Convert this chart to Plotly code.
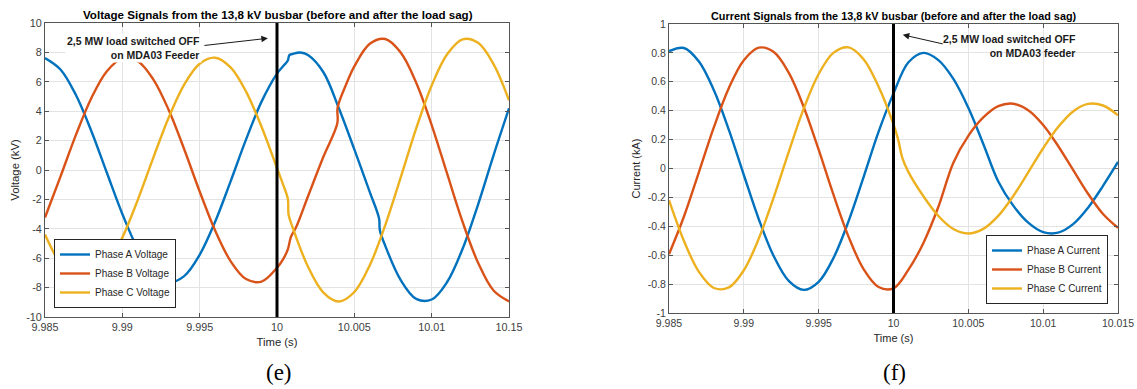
import plotly.graph_objects as go

# ---------------- tick labels ----------------
x_tickvals = [9.985, 9.99, 9.995, 10.0, 10.005, 10.01, 10.015]
v_xticktext = ["9.985", "9.99", "9.995", "10", "10.005", "10.01", "10.15"]
i_xticktext = ["9.985", "9.99", "9.995", "10", "10.005", "10.01", "10.015"]
v_yticks = [-10, -8, -6, -4, -2, 0, 2, 4, 6, 8, 10]
v_yticktext = ["-10", "-8", "-6", "-4", "-2", "0", "2", "4", "6", "8", "10"]
i_yticks = [-1, -0.8, -0.6, -0.4, -0.2, 0, 0.2, 0.4, 0.6, 0.8, 1]
i_yticktext = ["-1", "-0.8", "-0.6", "-0.4", "-0.2", "0", "0.2", "0.4", "0.6", "0.8", "1"]

# ---------------- time bases (s) ----------------
t_pre = [9.985, 9.986, 9.987, 9.988, 9.989, 9.990, 9.991, 9.992,
         9.993, 9.994, 9.995, 9.996, 9.997, 9.998, 9.999, 10.000]
t_post = [10.001, 10.002, 10.003, 10.004, 10.005, 10.006, 10.007, 10.008,
          10.009, 10.010, 10.011, 10.012, 10.013, 10.014, 10.015]

# ---------------- voltage signals (kV) ----------------
tva = t_pre + [10.0004, 10.0007, 10.0008, 10.001, 10.0015, 10.002, 10.003, 10.004,
               10.005, 10.006, 10.0066, 10.00665, 10.007, 10.008, 10.009, 10.010,
               10.011, 10.012, 10.013, 10.014, 10.015]
va = [7.62, 6.84, 5.10, 2.64, -0.19, -2.99, -5.37, -7.00, -7.64, -7.22, -5.77, -3.52,
      -0.77, 2.08, 4.65, 6.56,
      7.07, 7.45, 7.82, 7.89, 7.99, 7.82, 6.65, 4.20, 1.40, -1.50, -3.30, -4.10,
      -5.16, -7.49, -8.77, -8.81, -7.62, -5.36, -2.35, 1.00, 4.20]

tvb = t_pre + [10.0004, 10.0007, 10.0009, 10.00125, 10.002, 10.003, 10.0039, 10.00392,
               10.0045, 10.005, 10.006, 10.007, 10.008, 10.009, 10.010, 10.011,
               10.012, 10.013, 10.014, 10.015]
vb = [-3.23, -0.45, 2.39, 4.90, 6.72, 7.59, 7.40, 6.17, 4.08, 1.41, -1.46, -4.12,
      -6.20, -7.42, -7.59, -6.65,
      -6.06, -5.40, -4.55, -3.86, -1.80, 0.90, 3.18, 4.25,
      5.90, 7.05, 8.59, 8.91, 7.99, 5.94, 3.06, -0.25, -3.53, -6.31, -8.20, -8.94]

tvc = t_pre + [10.0004, 10.0007, 10.00075] + t_post
vc = [-4.39, -6.39, -7.49, -7.54, -6.53, -4.60, -2.03, 0.83, 3.57, 5.81, 7.23, 7.64,
      6.98, 5.33, 2.94, 0.13,
      -1.01, -1.95, -3.05,
      -3.87, -6.57, -8.34, -8.95, -8.30, -6.48, -3.75, -0.50, 2.83, 5.75, 7.87,
      8.89, 8.65, 7.20, 4.74]

# ---------------- current signals (kA) ----------------
tia = t_pre + t_post
ia = [0.812, 0.834, 0.740, 0.541, 0.267, -0.045, -0.351, -0.607, -0.778, -0.840,
      -0.784, -0.617, -0.364, -0.060, 0.253, 0.520,
      0.735, 0.800, 0.750, 0.620, 0.420, 0.170, -0.090, -0.257, -0.375, -0.440,
      -0.444, -0.385, -0.271, -0.120, 0.045]

tib = t_pre + t_post
ib = [-0.593, -0.332, -0.025, 0.286, 0.557, 0.749, 0.836, 0.806, 0.663, 0.426,
      0.130, -0.185, -0.473, -0.696, -0.820, -0.829,
      -0.700, -0.515, -0.265, 0.040, 0.226, 0.353, 0.431, 0.448, 0.403, 0.301,
      0.156, -0.010, -0.175, -0.315, -0.411]

tic = t_pre + [10.0003, 10.0006] + t_post
ic = [-0.219, -0.502, -0.715, -0.827, -0.823, -0.704, -0.485, -0.199, 0.115, 0.414,
      0.654, 0.802, 0.838, 0.756, 0.567, 0.305,
      0.205, 0.070,
      -0.025, -0.192, -0.329, -0.419, -0.450, -0.418, -0.328, -0.191, -0.027, 0.140,
      0.287, 0.395, 0.447, 0.436, 0.368]

C_A, C_B, C_C = "#0072BD", "#D95319", "#EDB120"
LW = 2.4
FONT = "Arial, Liberation Sans, Helvetica, sans-serif"
TXT = "#262626"

fig = go.Figure()
for t, v, name, col in [(tva, va, "Phase A Voltage", C_A),
                        (tvb, vb, "Phase B Voltage", C_B),
                        (tvc, vc, "Phase C Voltage", C_C)]:
    fig.add_trace(go.Scatter(x=t, y=v, name=name, mode="lines",
                             line=dict(color=col, width=LW, shape="spline", smoothing=1.0),
                             xaxis="x", yaxis="y", legend="legend"))
for t, v, name, col in [(tia, ia, "Phase A Current", C_A),
                        (tib, ib, "Phase B Current", C_B),
                        (tic, ic, "Phase C Current", C_C)]:
    fig.add_trace(go.Scatter(x=t, y=v, name=name, mode="lines",
                             line=dict(color=col, width=LW, shape="spline", smoothing=1.0),
                             xaxis="x2", yaxis="y2", legend="legend2"))

W, H = 1137, 389


def axis_style(fs):
    return dict(showline=True, linecolor="#555555", linewidth=1, mirror="ticks",
                ticks="inside", ticklen=4, tickcolor="#555555", automargin=False,
                showgrid=True, gridcolor="#e3e3e3", gridwidth=1, zeroline=False,
                tickfont=dict(family=FONT, size=fs, color="#404040"))


fig.update_layout(
    width=W, height=H, margin=dict(l=0, r=0, t=0, b=0, autoexpand=False),
    paper_bgcolor="white", plot_bgcolor="white",
    font=dict(family=FONT, color=TXT),
    xaxis=dict(domain=[45 / W, 509 / W], range=[9.985, 10.015], anchor="y",
               tickvals=x_tickvals, ticktext=v_xticktext,
               title=dict(text="Time (s)", font=dict(size=11.3, color=TXT), standoff=6),
               **axis_style(10.8)),
    yaxis=dict(domain=[(H - 317) / H, (H - 23) / H], range=[-10, 10], anchor="x",
               tickvals=v_yticks, ticktext=v_yticktext,
               title=dict(text="Voltage (kV)", font=dict(size=11.3, color=TXT), standoff=4),
               **axis_style(10.8)),
    xaxis2=dict(domain=[669 / W, 1118 / W], range=[9.985, 10.015], anchor="y2",
                tickvals=x_tickvals, ticktext=i_xticktext,
                title=dict(text="Time (s)", font=dict(size=11, color=TXT), standoff=6),
                **axis_style(10.5)),
    yaxis2=dict(domain=[(H - 313) / H, (H - 24) / H], range=[-1, 1], anchor="x2",
                tickvals=i_yticks, ticktext=i_yticktext,
                title=dict(text="Current (kA)", font=dict(size=11, color=TXT), standoff=4),
                **axis_style(10.5)),
    legend=dict(x=54 / W, y=(H - 308) / H, xanchor="left", yanchor="bottom",
                bgcolor="white", bordercolor="#262626", borderwidth=1,
                font=dict(family=FONT, size=10, color=TXT), tracegroupgap=0),
    legend2=dict(x=1108 / W, y=(H - 304) / H, xanchor="right", yanchor="bottom",
                 bgcolor="white", bordercolor="#262626", borderwidth=1,
                 font=dict(family=FONT, size=10, color=TXT), tracegroupgap=0),
    showlegend=True,
)

fig.add_shape(type="line", xref="x", yref="y domain", x0=10.0, x1=10.0, y0=0, y1=1,
              line=dict(color="black", width=3))
fig.add_shape(type="line", xref="x2", yref="y2 domain", x0=10.0, x1=10.0, y0=0, y1=1,
              line=dict(color="black", width=3))

ann = []
# titles
ann.append(dict(text="Voltage Signals from the 13,8 kV busbar (before and after the load sag)",
                xref="paper", yref="paper", x=277.5 / W, y=(H - 14) / H, showarrow=False,
                xanchor="center", yanchor="middle",
                font=dict(family=FONT, size=11.6, color="black", weight="bold")))
ann.append(dict(text="Current Signals from the 13,8 kV busbar (before and after the load sag)",
                xref="paper", yref="paper", x=893.5 / W, y=(H - 16) / H, showarrow=False,
                xanchor="center", yanchor="middle",
                font=dict(family=FONT, size=10.85, color="black", weight="bold")))
# event labels
ann.append(dict(text="2,5 MW load switched OFF<br>on MDA03 Feeder", xref="x", yref="y",
                x=9.99515, y=8.3, xanchor="right", yanchor="middle", align="right",
                showarrow=False, bgcolor="white",
                font=dict(family=FONT, size=10.5, color="#1a1a1a", weight="bold")))
ann.append(dict(text="", xref="x", yref="y", x=9.99941, y=8.96, axref="x", ayref="y",
                ax=9.99521, ay=8.46, showarrow=True, arrowhead=2, arrowsize=1.3,
                arrowwidth=1, arrowcolor="#1a1a1a"))
ann.append(dict(text="2,5 MW load switched OFF<br>on MDA03 feeder", xref="x2", yref="y2",
                x=10.01235, y=0.85, xanchor="right", yanchor="middle", align="right",
                showarrow=False, bgcolor="rgba(255,255,255,0)",
                font=dict(family=FONT, size=10.5, color="#1a1a1a", weight="bold")))
ann.append(dict(text="", xref="x2", yref="y2", x=10.00062, y=0.925, axref="x2", ayref="y2",
                ax=10.00339, ay=0.86, showarrow=True, arrowhead=2, arrowsize=1.3,
                arrowwidth=1, arrowcolor="#1a1a1a"))
# panel letters
ann.append(dict(text="(e)", xref="paper", yref="paper", x=279 / W, y=(H - 372) / H,
                showarrow=False, xanchor="center", yanchor="middle",
                font=dict(family="Liberation Serif, Times New Roman, serif", size=23, color="black")))
ann.append(dict(text="(f)", xref="paper", yref="paper", x=894 / W, y=(H - 372) / H,
                showarrow=False, xanchor="center", yanchor="middle",
                font=dict(family="Liberation Serif, Times New Roman, serif", size=23, color="black")))
fig.update_layout(annotations=ann)

# remove the default 8px page margin so the figure sits at the window origin
fig.write_html("out.html", config={"displayModeBar": False},
               post_script="document.body.style.margin='0px';document.body.style.overflow='hidden';")
